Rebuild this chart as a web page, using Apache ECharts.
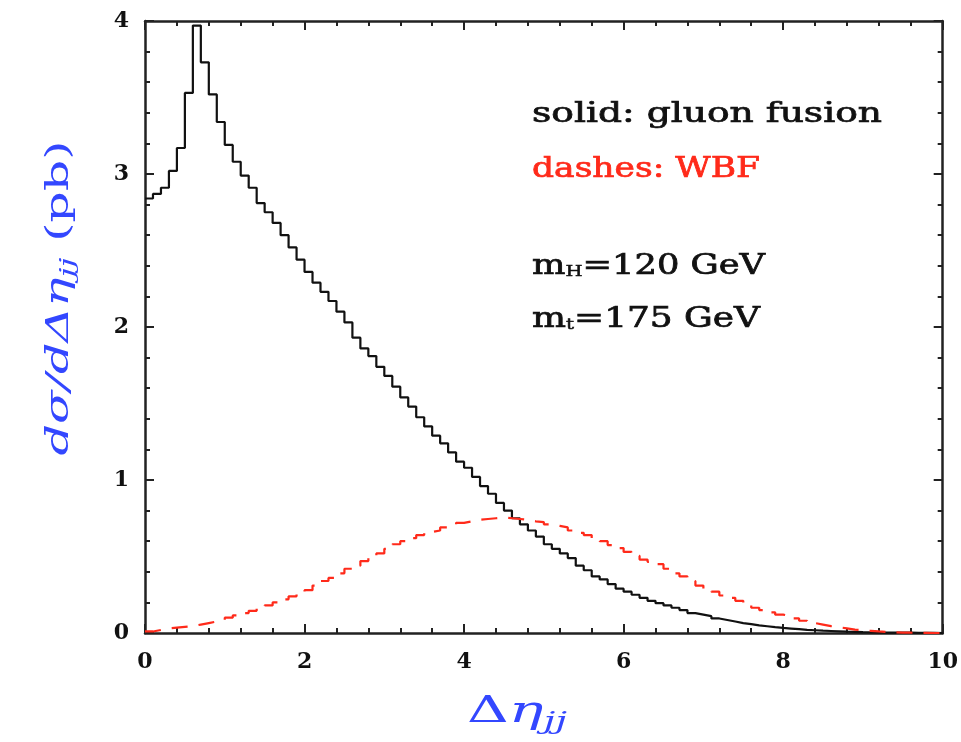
<!DOCTYPE html>
<html>
<head>
<meta charset="utf-8">
<script src="https://cdn.jsdelivr.net/npm/echarts@6/dist/echarts.min.js"></script>
<style>html,body{margin:0;padding:0;background:#fff;}#c{width:961px;height:742px;}</style>
</head>
<body>
<div id="c"></div>
<script>
// bin left edges (width 0.1), Δη_jj from 0 to 10
const binWidth = 0.1;
const gluonFusion = [
 2.84,2.87,2.91,3.02,3.17,3.53,3.97,3.73,3.52,3.34,
 3.19,3.08,2.99,2.91,2.81,2.75,2.68,2.60,2.52,2.44,
 2.36,2.29,2.23,2.17,2.10,2.03,1.93,1.86,1.81,1.74,
 1.68,1.61,1.54,1.48,1.41,1.35,1.29,1.24,1.18,1.12,
 1.08,1.02,0.96,0.91,0.85,0.80,0.75,0.71,0.67,0.63,
 0.58,0.55,0.52,0.49,0.44,0.41,0.37,0.35,0.32,0.29,
 0.27,0.25,0.23,0.21,0.195,0.18,0.165,0.15,0.13,0.12,
 0.11,0.095,0.085,0.075,0.065,0.058,0.05,0.044,0.038,0.033,
 0.029,0.025,0.021,0.018,0.015,0.013,0.011,0.009,0.008,0.006,
 0.005,0.004,0.003,0.003,0.002,0.002,0.001,0.001,0.001,0.0
];
const wbf = [
 0.01,0.02,0.03,0.035,0.04,0.045,0.055,0.065,0.075,0.085,
 0.10,0.115,0.13,0.145,0.16,0.18,0.20,0.22,0.24,0.26,
 0.28,0.31,0.34,0.36,0.39,0.42,0.44,0.47,0.50,0.52,
 0.55,0.58,0.60,0.62,0.64,0.66,0.67,0.69,0.70,0.72,
 0.73,0.74,0.745,0.75,0.755,0.75,0.745,0.74,0.73,0.725,
 0.71,0.70,0.69,0.67,0.655,0.64,0.62,0.60,0.575,0.555,
 0.53,0.505,0.48,0.465,0.45,0.42,0.39,0.37,0.34,0.31,
 0.29,0.27,0.245,0.23,0.21,0.185,0.165,0.15,0.135,0.12,
 0.11,0.095,0.08,0.065,0.055,0.045,0.038,0.03,0.022,0.018,
 0.014,0.01,0.007,0.005,0.003,0.002,0.001,0.001,0.0,0.0
];
const xTicks = [0,2,4,6,8,10];
const yTicks = [0,1,2,3,4];

function histPoints(vals){
  const pts = vals.map((v,i)=>[+(i*binWidth).toFixed(2), v]);
  pts.push([+(vals.length*binWidth).toFixed(2), vals[vals.length-1]]);
  return pts;
}

const serif = '"DejaVu Serif", "Liberation Serif", serif';
const blue = '#3347ff';
const red = '#ff2a1a';
const ink = '#111';

// text width measurement, used to stretch labels to the reference's wide typeface
const mctx = document.createElement('canvas').getContext('2d');
function tw(parts){ // parts: [[text, font], ...]
  let w = 0;
  parts.forEach(p=>{ mctx.font = p[1]; w += mctx.measureText(p[0]).width; });
  return w;
}

const axisCommon = {
  axisLine:{show:true, onZero:false, lineStyle:{color:'#222', width:2.5}},
  axisTick:{show:true, inside:true, length:9, lineStyle:{color:'#222', width:2}},
  minorTick:{show:true, splitNumber:5, length:5, lineStyle:{color:'#222', width:2}},
  splitLine:{show:false},
  minorSplitLine:{show:false}
};

// annotation texts
const fBody = '27px ' + serif;
const fSub = '15px ' + serif;
const wLine1 = tw([['solid: gluon fusion', fBody]]);
const wLine2 = tw([['dashes: WBF', fBody]]);
const wLine3 = tw([['m', fBody],['H', fSub],['=120 GeV', fBody]]);
const wLine4 = tw([['m', fBody],['t', fSub],['=175 GeV', fBody]]);

const fXT = 'italic 38px ' + serif, fXTd = '38px ' + serif, fXTs = 'italic 25px ' + serif;
const wXT = tw([['Δ', fXTd],['η', fXT],['jj', fXTs]]);
const fYT = 'italic 32px ' + serif, fYTs = 'italic 21px ' + serif, fYTn = '32px ' + serif;
const wYT = tw([['dσ/dΔη', fYT],['jj', fYTs],[' (pb)', fYTn]]);

const chart = echarts.init(document.getElementById('c'), null, {renderer:'canvas'});
chart.setOption({
  backgroundColor:'#fff',
  animation:false,
  grid:{left:145, top:21, width:798, height:612, containLabel:false},
  xAxis:[
    Object.assign({type:'value', min:0, max:10, interval:2, position:'bottom',
      axisLabel:{show:true, margin:18, fontFamily:serif, fontWeight:'bold', fontSize:22, color:ink,
        formatter:v=>xTicks.includes(v)?String(v):''}
    }, axisCommon),
    Object.assign({type:'value', min:0, max:10, interval:2, position:'top', axisLabel:{show:false}}, axisCommon)
  ],
  yAxis:[
    Object.assign({type:'value', min:0, max:4, interval:1, position:'left',
      axisLabel:{show:true, margin:16, fontFamily:serif, fontWeight:'bold', fontSize:22, color:ink,
        formatter:v=>yTicks.includes(v)?String(v):''}
    }, axisCommon),
    Object.assign({type:'value', min:0, max:4, interval:1, position:'right', axisLabel:{show:false}}, axisCommon)
  ],
  series:[
    {type:'line', name:'gluon fusion', step:'end', showSymbol:false, xAxisIndex:0, yAxisIndex:0,
      data:histPoints(gluonFusion), lineStyle:{color:ink, width:2.2}, z:3},
    {type:'line', name:'WBF', step:'end', showSymbol:false, xAxisIndex:0, yAxisIndex:0,
      data:histPoints(wbf), lineStyle:{color:red, width:2.2, type:[16,11]}, z:4}
  ],
  graphic:[
    {type:'text', x:532, y:101, scaleX:350/wLine1, style:{text:'solid: gluon fusion', font:fBody, fill:ink, stroke:ink, lineWidth:0.7}},
    {type:'text', x:532, y:156, scaleX:228/wLine2, style:{text:'dashes: WBF', font:fBody, fill:red, stroke:red, lineWidth:0.7}},
    {type:'text', x:532, y:253, scaleX:233/wLine3, style:{text:'{a|m}{s|H}{a|=120 GeV}', rich:{
      a:{font:fBody, fill:ink, stroke:ink, lineWidth:0.7},
      s:{font:fSub, fill:ink, stroke:ink, lineWidth:0.5, padding:[12,0,0,0]}}}},
    {type:'text', x:532, y:306, scaleX:228/wLine4, style:{text:'{a|m}{s|t}{a|=175 GeV}', rich:{
      a:{font:fBody, fill:ink, stroke:ink, lineWidth:0.7},
      s:{font:fSub, fill:ink, stroke:ink, lineWidth:0.5, padding:[12,0,0,0]}}}},
    // x-axis title
    {type:'text', x:467, y:690, scaleX:100/wXT, style:{text:'{d|Δ}{e|η}{s|jj}', rich:{
      d:{font:fXTd, fill:blue},
      e:{font:fXT, fill:blue},
      s:{font:fXTs, fill:blue, padding:[20,0,0,0]}}}},
    // y-axis title (rotated)
    {type:'text', x:60, y:298, rotation:Math.PI/2, scaleX:315/wYT, style:{
      text:'{i|dσ/dΔη}{s|jj}{n| (pb)}', align:'center', verticalAlign:'middle', rich:{
      i:{font:fYT, fill:blue},
      s:{font:fYTs, fill:blue, padding:[18,0,0,0]},
      n:{font:fYTn, fill:blue}}}}
  ]
});
</script>
</body>
</html>
